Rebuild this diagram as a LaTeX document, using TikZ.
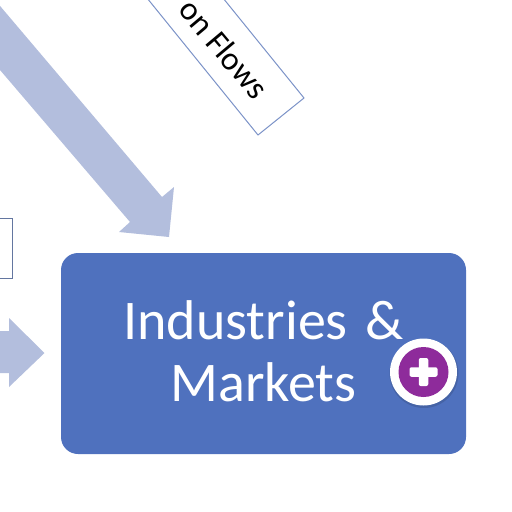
\documentclass[tikz,border=0pt]{standalone}
\usepackage{fontspec}
\setmainfont{Carlito}
\definecolor{boxblue}{HTML}{4F71BE}
\definecolor{flowblue}{HTML}{B3BEDD}
\definecolor{edgeblue}{HTML}{7C93C8}
\definecolor{plusviolet}{HTML}{8E2B9B}
\tikzset{
  flowarrow/.style={fill=flowblue, draw=none},
  labelbox/.style={draw=edgeblue, line width=1pt, fill=white},
  mainbox/.style={fill=boxblue, rounded corners=17pt, minimum width=405pt, minimum height=201pt,
    inner sep=0pt, align=center, text=white, font=\fontsize{56}{62}\selectfont},
  plusbar/.style={fill=white, rounded corners=2pt},
}

\begin{document}
\begin{tikzpicture}[x=1pt, y=-1pt]
  \useasboundingbox (0, 0) rectangle (512, 512);

  % Flow arrow from the upper left
  \draw[flowarrow] (-5, 0) -- (162, 197) -- (174, 187) -- (169, 237) -- (119, 232) -- (130, 222) -- (0, 70) -- (-5, 64) -- cycle;

  % Flow arrow from the left
  \draw[flowarrow] (-2, 331) -- (9, 331) -- (9, 318) -- (44.5, 353) -- (9, 387) -- (9, 373) -- (-2, 373) -- cycle;

  % Rotated label
  \draw[labelbox] (147, -2) -- (258, 135) -- (304, 98) -- (223, -2);
  \node[rotate=-50, font=\fontsize{33}{33}\selectfont] (flowlabel) at (224, 49) {on Flows};

  % Box on the left edge
  \draw[draw=edgeblue!80!black, line width=1pt] (-2, 218) -- (12.5, 218) -- (12.5, 278) -- (-2, 278);

  % Main box
  \node[mainbox] (markets) at (263.5, 353.5) {\raisebox{5pt}{Industries\hspace{5pt} \&}\\\raisebox{5pt}{Markets}};

  % Plus button
  \node[circle, fill=black, opacity=0.12, minimum size=69pt, inner sep=0pt] (buttonshadow) at (424, 373.5) {};
  \node[circle, fill=white, minimum size=67pt, inner sep=0pt] (buttonring) at (423.5, 372) {};
  \node[circle, fill=plusviolet, minimum size=50pt, inner sep=0pt] (button) at (423.5, 372) {};
  \fill[plusbar] ([shift={(-14pt,-4.75pt)}]button.center) rectangle ([shift={(14pt,4.75pt)}]button.center);
  \fill[plusbar] ([shift={(-4.75pt,-14pt)}]button.center) rectangle ([shift={(4.75pt,14pt)}]button.center);
\end{tikzpicture}
\end{document}
